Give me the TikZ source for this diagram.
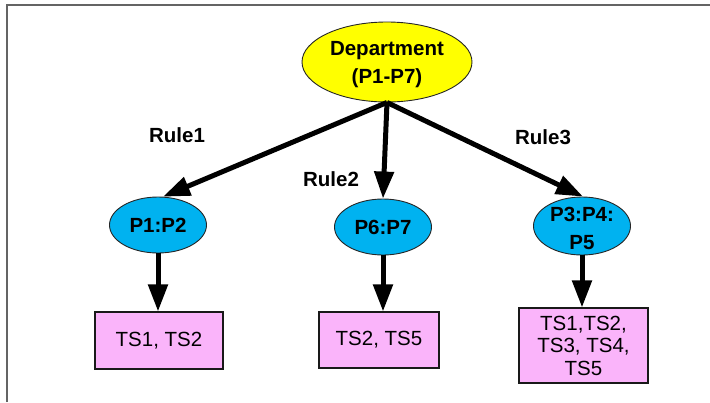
\documentclass[tikz,border=0pt]{standalone}
\usepackage{fontspec}
\setmainfont{Liberation Sans}
\usetikzlibrary{shapes.geometric,arrows.meta}
\definecolor{deptyellow}{RGB}{255,255,0}
\definecolor{pblue}{RGB}{0,178,240}
\definecolor{tspink}{RGB}{250,180,250}
\definecolor{framegray}{RGB}{100,100,100}
\tikzset{
  bigell/.style={ellipse, draw=black!85, line width=0.9pt, inner sep=0pt},
  deptnode/.style={bigell, fill=deptyellow, minimum width=170pt, minimum height=80pt},
  pnode/.style={bigell, fill=pblue, minimum width=97pt, minimum height=56pt},
  elltext/.style={font=\fontsize{20.5}{28}\selectfont\bfseries, align=center, inner sep=0pt, text=black},
  tsbox/.style={rectangle, draw=black!90, line width=1.1pt, fill=tspink, inner sep=0pt,
    font=\fontsize{20.5}{22.5}\selectfont, align=center},
  rulelabel/.style={font=\fontsize{20.5}{24}\selectfont\bfseries, inner sep=0pt},
  bigarrow/.style={line width=5pt, -{Triangle[length=27pt,width=19pt]}},
}
\begin{document}
\begin{tikzpicture}[x=1pt,y=-1pt]
\useasboundingbox (0,0) rectangle (710,402);
% frame
\draw[framegray, line width=1.8pt] (7,402) -- (7,5) -- (710,5);
% nodes
\node[deptnode, label={[elltext, yshift=-3pt]center:{Department\\(P1-P7)}}] (D) at (387,62) {};
\node[pnode, label={[elltext]center:{P1:P2}}] (P12) at (158,225) {};
\node[pnode, label={[elltext]center:{P6:P7}}] (P67) at (383,227) {};
\node[pnode, minimum height=58pt, label={[elltext, yshift=-2pt]center:{P3:P4:\\P5}}] (P345) at (582,226) {};
\node[tsbox, minimum width=128pt, minimum height=57pt] (B1) at (159,340.5) {TS1, TS2};
\node[tsbox, minimum width=120pt, minimum height=56pt] (B2) at (379,340) {TS2, TS5};
\node[tsbox, minimum width=129pt, minimum height=75pt] (B3) at (583.5,345.5) {TS1,TS2,\\TS3, TS4,\\TS5};
% rule labels
\node[rulelabel] (R1) at (177,135) {Rule1};
\node[rulelabel] (R2) at (331,179) {Rule2};
\node[rulelabel] (R3) at (543,137) {Rule3};
% arrows
\draw[bigarrow] (D.south) -- (P12.80);
\draw[bigarrow] (D.south) -- (P67.north);
\draw[bigarrow] (D.south) -- (P345.88);
\draw[bigarrow] (P12.south) -- (P12.south |- B1.north);
\draw[bigarrow] (P67.south) -- (P67.south |- B2.north);
\draw[bigarrow] (P345.south) -- (P345.south |- B3.north);
\end{tikzpicture}
\end{document}
